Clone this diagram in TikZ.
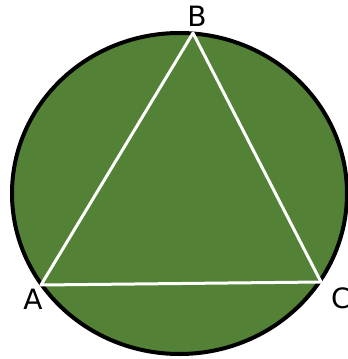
\documentclass[tikz,border=0pt]{standalone}
\usepackage{fontspec}
\setmainfont{DejaVu Sans}
\usepackage{xcolor}
\usetikzlibrary{calc, positioning}
\definecolor{cgreen}{HTML}{538135}

\begin{document}
\begin{tikzpicture}[
    x=1pt, y=-1pt,
    disc/.style={draw=black, line width=4pt, fill=cgreen},
    side/.style={draw=white, line width=3pt, line join=round},
    label/.style={font=\fontsize{28}{30}\selectfont, text=black, inner sep=0pt}
]
\useasboundingbox (0,0) rectangle (348,359);
\draw[disc] (179.5,193.5) ellipse [x radius=167.5, y radius=160.5];
\coordinate (A) at (41,285);
\coordinate (B) at (193,33);
\coordinate (C) at (321,282);
\draw[side] (A) -- (B) -- (C) -- cycle;
\node[label] (lA) at (33,299) {A};
\node[label] (lB) at (197,16) {B};
\node[label, anchor=west] (lC) at (331,298) {C};
\end{tikzpicture}
\end{document}
